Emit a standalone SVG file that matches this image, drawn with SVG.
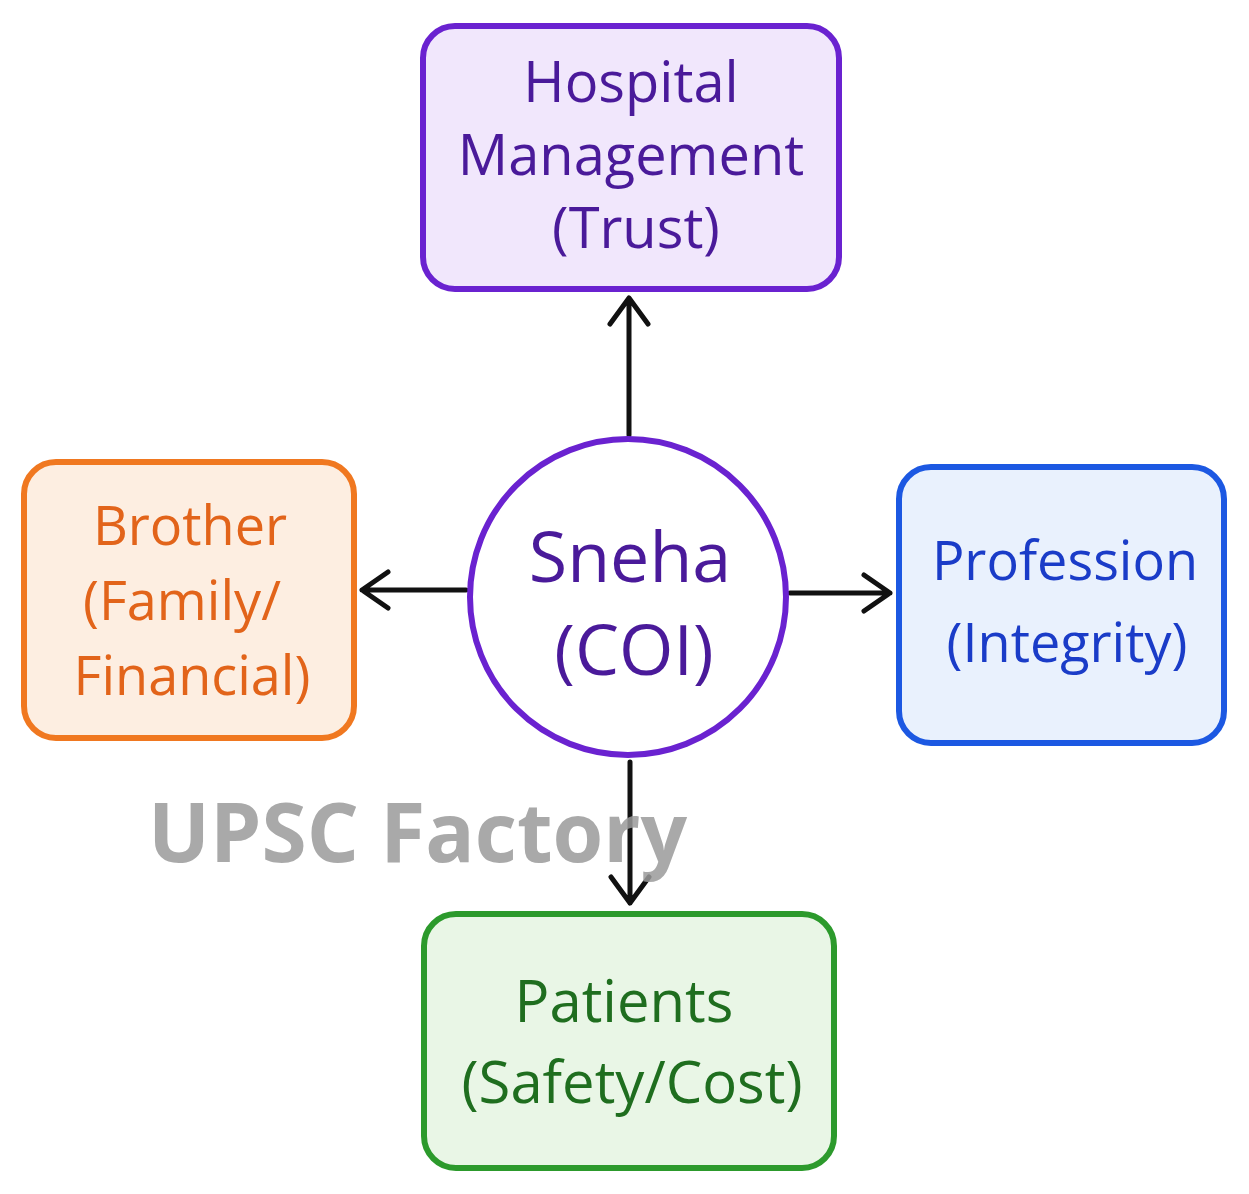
<svg xmlns="http://www.w3.org/2000/svg" width="1249" height="1194" viewBox="0 0 1249 1194">
<style>
.box{stroke-width:6}
.t{font-family:"Open Sans","DejaVu Sans",sans-serif;text-anchor:middle}
.c{stroke:#111;stroke-width:5;fill:none;stroke-linecap:round;stroke-linejoin:round}
</style>
<rect width="1249" height="1194" fill="#fff"/>
<g id="connectors">
<path class="c" d="M629 435V298M610 324L629 298L648 324"/>
<path class="c" d="M466 590H362M388 572L362 590L388 608"/>
<path class="c" d="M790 593H890M864 575L890 593L864 611"/>
<path class="c" d="M630 762V903M611 877L630 903L649 877"/>
</g>
<g id="hospital">
<rect class="box" x="423" y="26" width="416" height="263" rx="32" fill="#f1e7fc" stroke="#6a22d0"/>
<text class="t" fill="#4a1a9a" font-size="56"><tspan x="631" y="102">Hospital</tspan><tspan x="631" y="175">Management</tspan><tspan x="636" y="248">(Trust)</tspan></text>
</g>
<g id="brother">
<rect class="box" x="24" y="462" width="330" height="276" rx="32" fill="#fdeee1" stroke="#f07820"/>
<text class="t" fill="#e2641a" font-size="54"><tspan x="190" y="545">Brother</tspan><tspan x="182" y="620">(Family/</tspan><tspan x="192" y="695">Financial)</tspan></text>
</g>
<g id="sneha">
<circle cx="628" cy="597" r="158" fill="#fff" stroke="#6a22d0" stroke-width="6"/>
<text class="t" fill="#4a1a9a" font-size="70"><tspan x="630" y="582">Sneha</tspan><tspan x="634" y="675">(COI)</tspan></text>
</g>
<g id="profession">
<rect class="box" x="899" y="467" width="325" height="276" rx="32" fill="#e9f1fd" stroke="#1c58e2"/>
<text class="t" fill="#1a3cc8" font-size="54"><tspan x="1065" y="580">Profession</tspan><tspan x="1067" y="662">(Integrity)</tspan></text>
</g>
<g id="patients">
<rect class="box" x="424" y="914" width="410" height="254" rx="32" fill="#e9f6e6" stroke="#2c9a2c"/>
<text class="t" fill="#1f6e1f" font-size="58"><tspan x="624" y="1022">Patients</tspan><tspan x="632" y="1103">(Safety/Cost)</tspan></text>
</g>
<text x="148" y="862" font-family="'Open Sans','DejaVu Sans',sans-serif" font-weight="bold" font-size="82" fill="#9a9a9a" fill-opacity="0.85">UPSC Factory</text>
</svg>
